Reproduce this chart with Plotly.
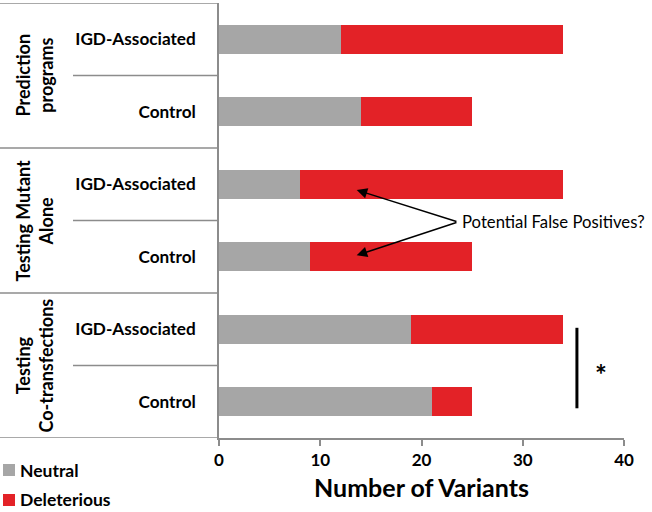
import plotly.graph_objects as go

categories = ["IGD-Associated", "Control", "IGD-Associated", "Control", "IGD-Associated", "Control"]
groups = ["Prediction<br>programs", "Testing Mutant<br>Alone", "Testing<br>Co-transfections"]
neutral = [12, 14, 8, 9, 19, 21]
deleterious = [22, 11, 26, 16, 15, 4]
x_ticks = [0, 10, 20, 30, 40]

GRAY = "#A6A6A6"
RED = "#E32227"
FONT = "Lato"
W, H = 652, 512
ML, MR, MT, MB = 219, 28, 3, 74
PW = W - ML - MR
PH = H - MT - MB

ypos = list(range(len(categories)))

fig = go.Figure()
fig.add_trace(go.Bar(y=ypos, x=neutral, orientation="h", marker=dict(color=GRAY, line=dict(width=0)),
                     name="Neutral", width=0.4, showlegend=False))
fig.add_trace(go.Bar(y=ypos, x=deleterious, orientation="h", marker=dict(color=RED, line=dict(width=0)),
                     name="Deleterious", width=0.4, showlegend=False))

def px2paper(px):
    return (px - ML) / PW

def py2paper(py):
    return (H - MB - py) / PH

shapes = []
for yb in [-0.5, 1.5, 3.5, 5.5]:
    shapes.append(dict(type="line", xref="paper", yref="y", x0=px2paper(0), x1=0, y0=yb, y1=yb,
                       line=dict(color="#8C8C8C", width=1.5)))
for yb in [0.5, 2.5, 4.5]:
    shapes.append(dict(type="line", xref="paper", yref="y", x0=px2paper(73), x1=0, y0=yb, y1=yb,
                       line=dict(color="#8C8C8C", width=1.5)))
shapes.append(dict(type="line", xref="x", yref="y", x0=35.35, x1=35.35, y0=3.98, y1=5.09,
                   line=dict(color="black", width=3)))

legend_items = [("Neutral", GRAY), ("Deleterious", RED)]
legend_cy = [470, 500]
for (nm, col), cy in zip(legend_items, legend_cy):
    shapes.append(dict(type="rect", xref="paper", yref="paper",
                       x0=px2paper(3), x1=px2paper(15),
                       y0=py2paper(cy + 6), y1=py2paper(cy - 6),
                       fillcolor=col, line=dict(width=0)))

annotations = []
for (nm, col), cy in zip(legend_items, legend_cy):
    annotations.append(dict(text="<b>%s</b>" % nm, xref="paper", yref="paper",
                            x=px2paper(18), y=py2paper(cy),
                            xanchor="left", yanchor="middle", showarrow=False,
                            font=dict(family=FONT, size=17.5, color="black")))

for g, yc in zip(groups, [0.5, 2.5, 4.5]):
    annotations.append(dict(text="<b>%s</b>" % g, xref="paper", yref="y", x=px2paper(34), y=yc,
                            textangle=-90, showarrow=False, xanchor="center", yanchor="middle",
                            font=dict(family=FONT, size=18, color="black")))

for ty in [2.08, 2.98]:
    annotations.append(dict(x=13.6, y=ty, ax=23.6, ay=2.52, xref="x", yref="y", axref="x", ayref="y",
                            text="", showarrow=True, arrowhead=2, arrowsize=1.4, arrowwidth=1.5,
                            arrowcolor="black"))
annotations.append(dict(text="Potential False Positives?", x=23.85, y=2.52, xref="x", yref="y",
                        xanchor="left", yanchor="middle", showarrow=False,
                        font=dict(family=FONT, size=16.7, color="black")))
annotations.append(dict(text="<b>*</b>", x=37.75, y=4.62, xref="x", yref="y",
                        xanchor="center", yanchor="middle", showarrow=False,
                        font=dict(family=FONT, size=28, color="black")))

fig.update_layout(
    barmode="stack",
    width=W, height=H,
    margin=dict(l=ML, r=MR, t=MT, b=MB, pad=0),
    plot_bgcolor="white", paper_bgcolor="white",
    shapes=shapes, annotations=annotations,
    font=dict(family=FONT, color="black"),
    xaxis=dict(range=[0, 40], tickvals=x_ticks, ticktext=["<b>%d</b>" % v for v in x_ticks],
               showgrid=False, zeroline=False, showline=True, linecolor="#8C8C8C", linewidth=1.5,
               ticks="outside", ticklen=6, tickcolor="#8C8C8C", tickwidth=1.5,
               tickfont=dict(family=FONT, size=17, color="black"),
               title=dict(text="<b>Number of Variants</b>", font=dict(family=FONT, size=25, color="black"),
                          standoff=10)),
    yaxis=dict(range=[5.5, -0.5], tickvals=ypos, ticktext=["<b>%s</b>" % c for c in categories],
               showgrid=False, zeroline=False, showline=True, linecolor="#8C8C8C", linewidth=1.5,
               ticks="", ticklabelstandoff=18,
               tickfont=dict(family=FONT, size=17.2, color="black")),
    bargap=0.6,
)

fig.write_html("out.html", config={"displayModeBar": False},
               post_script="document.body.style.margin='0';document.body.style.overflow='hidden';")
